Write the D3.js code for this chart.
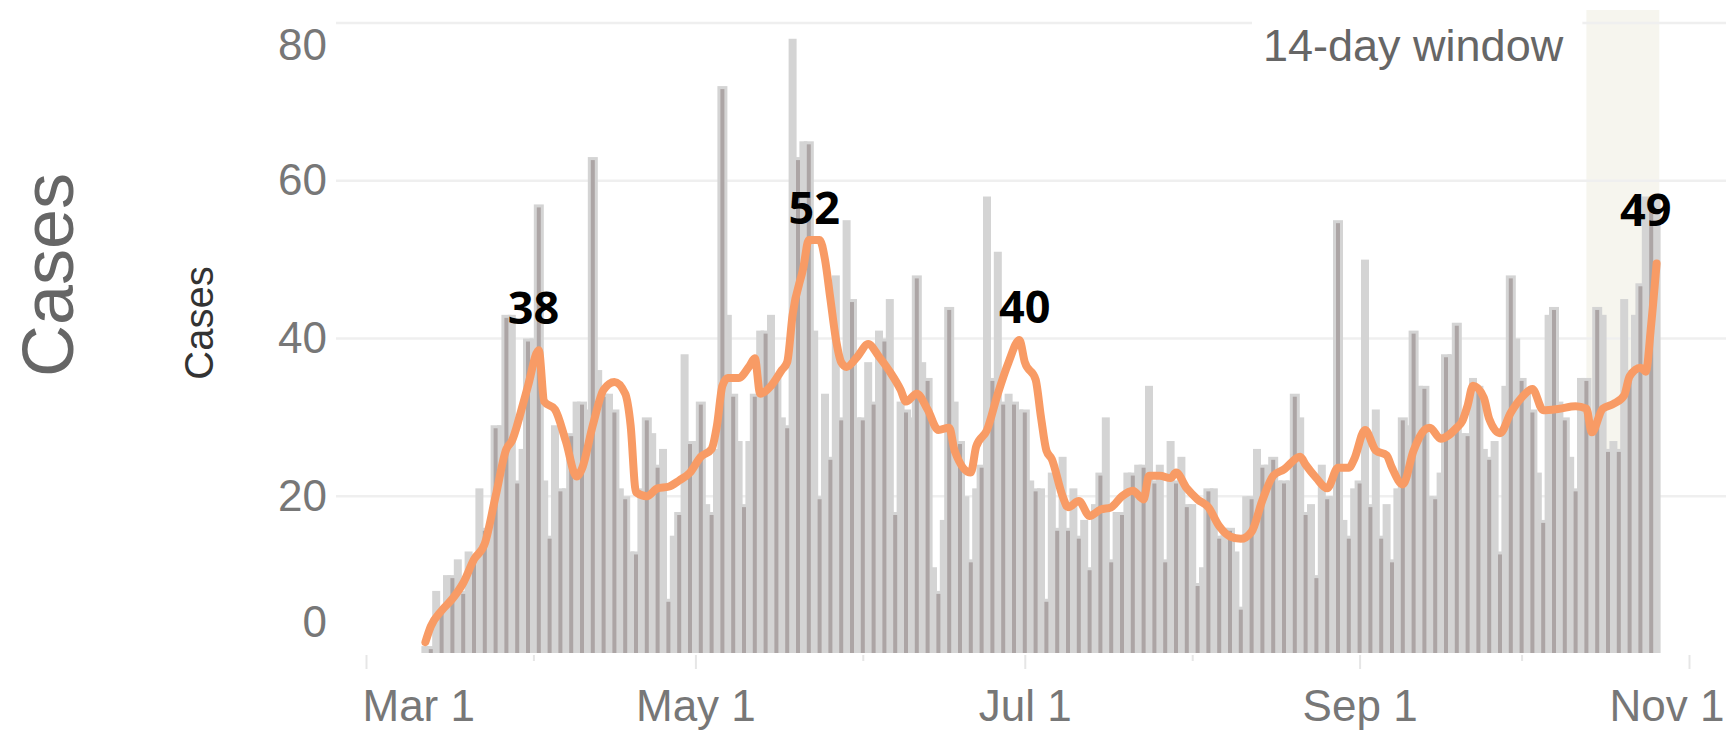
<!DOCTYPE html>
<html>
<head>
<meta charset="utf-8">
<script src="https://cdn.jsdelivr.net/npm/d3@7"></script>
<style>
    body { margin: 0; background: #fff; }
    text { font-family: "Liberation Sans", Arial, sans-serif; }
</style>
</head>
<body>
<div id="chart"></div>
<script>
// daily new cases, one bar per day from Mar 12
const firstDay = "2020-03-12";
const dailyCases = [
    1, 1, 8, 6, 10, 10, 12, 8, 13, 12,
    21, 16, 16, 29, 29, 43, 43, 22, 26, 40,
    40, 57, 22, 15, 29, 21, 21, 28, 32, 32,
    31, 63, 36, 33, 33, 31, 21, 20, 13, 13,
    21, 30, 28, 24, 26, 7, 15, 18, 38, 27,
    27, 32, 19, 18, 26, 72, 43, 33, 27, 19,
    27, 33, 41, 41, 43, 35, 30, 29, 78, 63,
    65, 65, 41, 20, 33, 25, 48, 30, 55, 45,
    30, 30, 37, 32, 41, 40, 45, 18, 32, 31,
    30, 48, 37, 35, 11, 8, 17, 44, 32, 27,
    20, 12, 21, 24, 58, 35, 51, 32, 33, 32,
    31, 31, 22, 21, 21, 7, 23, 16, 25, 16,
    21, 15, 17, 11, 19, 23, 30, 12, 18, 18,
    23, 23, 24, 24, 34, 22, 24, 12, 27, 22,
    25, 19, 19, 9, 11, 21, 21, 15, 16, 16,
    13, 6, 20, 20, 26, 24, 24, 25, 22, 22,
    22, 33, 30, 18, 19, 10, 24, 20, 20, 55,
    17, 15, 21, 22, 50, 19, 31, 15, 19, 12,
    21, 30, 29, 41, 34, 34, 20, 20, 23, 38,
    38, 42, 28, 28, 35, 34, 26, 25, 27, 13,
    34, 48, 40, 35, 33, 31, 23, 17, 43, 44,
    32, 30, 25, 21, 35, 35, 28, 44, 43, 26,
    27, 26, 45, 36, 43, 47, 58, 57, 58
];

// 7-day average (orange line)
const avgDates = [
    "03-12", "03-13", "03-15", "03-17", "03-19", "03-21", "03-23", "03-25", "03-27", "03-28",
    "03-30", "03-31", "04-02", "04-03", "04-05", "04-07", "04-09", "04-10", "04-12", "04-14",
    "04-16", "04-18", "04-19", "04-20", "04-22", "04-24", "04-26", "04-28", "04-30", "05-02",
    "05-04", "05-05", "05-06", "05-07", "05-09", "05-11", "05-12", "05-13", "05-15", "05-17",
    "05-18", "05-19", "05-21", "05-22", "05-24", "05-25", "05-26", "05-27", "05-28", "05-29",
    "05-31", "06-02", "06-04", "06-06", "06-08", "06-09", "06-11", "06-13", "06-15", "06-17",
    "06-18", "06-21", "06-22", "06-24", "06-26", "06-28", "06-30", "07-01", "07-03", "07-04",
    "07-05", "07-06", "07-08", "07-09", "07-11", "07-13", "07-15", "07-17", "07-19", "07-21",
    "07-23", "07-24", "07-26", "07-28", "07-29", "07-31", "08-02", "08-04", "08-06", "08-08",
    "08-10", "08-12", "08-14", "08-16", "08-18", "08-21", "08-22", "08-24", "08-26", "08-28",
    "08-30", "08-31", "09-02", "09-04", "09-06", "09-07", "09-09", "09-11", "09-13", "09-14",
    "09-16", "09-19", "09-20", "09-21", "09-22", "09-24", "09-25", "09-27", "09-29", "10-01",
    "10-03", "10-05", "10-08", "10-11", "10-13", "10-14", "10-16", "10-18", "10-20", "10-21",
    "10-23", "10-24", "10-25", "10-26"
];
const avgValues = [
    1.5, 3.5, 5.5, 7, 9, 12, 14, 20, 26, 27,
    31.5, 34, 38.5, 32, 31, 27, 22.5, 23.5, 29, 33.5,
    34.5, 33, 29, 20.5, 20, 21, 21.2, 22, 23, 25,
    26, 29, 34, 35, 35, 36.5, 37.5, 33, 34, 36,
    37, 43, 49, 52.5, 52.5, 50, 45, 40, 37, 36.4,
    37.7, 39.3, 37.7, 35.8, 33.5, 32, 33, 31, 28.4, 28.7,
    25.8, 23, 26.3, 28.4, 33, 37, 39.8, 37, 34.8, 30,
    25.8, 24.7, 20, 18.6, 19.4, 17.5, 18.3, 18.6, 20, 20.7,
    19.6, 22.6, 22.6, 22.3, 23, 21, 19.6, 18.6, 16.2, 14.9,
    14.6, 15.5, 19.5, 22.6, 23.4, 25, 24, 22.3, 21, 23.6,
    23.6, 24.7, 28.4, 25.8, 25.2, 23.6, 21.5, 25.8, 28.4, 28.7,
    27.3, 28.7, 29.5, 31.5, 34, 32.5, 29.8, 28, 30.6, 32.5,
    33.6, 30.9, 31.1, 31.4, 31.1, 28.1, 31.1, 31.7, 32.8, 35.2,
    36.3, 35.8, 41.8, 49.5
];

// peak labels
const peakDates = ["04-01", "05-23", "07-01", "10-24"];
const peakLabels = [38, 52, 40, 49];

const yTicks = [0, 20, 40, 60, 80];
const majorTicks = ["03-01", "05-01", "07-01", "09-01", "11-01"];
const minorTicks = ["04-01", "06-01", "08-01", "10-01"];
const windowStart = "10-13";
const windowLabel = "14-day window";
const axisTitle = "Cases";

// ---- layout / style ----
var width = 1726, height = 736;
var pane = { left: 336, right: 1726, top: 10, bottom: 653 };
var peakDy = [30, 20, 16, 42];
var lightGray = "#d4d4d4", darkGray = "#aca5a5";

var parse = d3.utcParse("%Y-%m-%d");
var md = s => parse("2020-" + s);

var x = d3.scaleUtc()
    .domain([md("03-01"), md("11-01")])
    .range([366, 1689]);

var y = d3.scaleLinear()
    .domain([0, 80])
    .range([654, 23]);

var start = parse(firstDay);
var bars = dailyCases.map((v, i) => ({ date: d3.utcDay.offset(start, i), value: v, i: i }));
var lastDay = bars[bars.length - 1].date;
var halfDay = (x(d3.utcDay.offset(start, 1)) - x(start)) / 2;

var svg = d3.select("#chart")
    .append("svg")
    .attr("width", width)
    .attr("height", height);

// 14-day window shading
svg.append("rect")
    .attr("x", x(md(windowStart)))
    .attr("y", pane.top)
    .attr("width", x(lastDay) + halfDay - x(md(windowStart)))
    .attr("height", pane.bottom - pane.top)
    .attr("fill", "#f6f5ee");

// gridlines
svg.append("g")
    .selectAll("line")
    .data(yTicks.filter(d => d > 0))
    .enter()
    .append("line")
    .attr("x1", pane.left)
    .attr("x2", pane.right)
    .attr("y1", d => y(d))
    .attr("y2", d => y(d))
    .attr("stroke", "#efefef")
    .attr("stroke-width", 2.5);

// window label sits on a white box over the top gridline
svg.append("rect")
    .attr("x", 1252)
    .attr("y", pane.top)
    .attr("width", x(md(windowStart)) - 1256)
    .attr("height", 62)
    .attr("fill", "#fff");

svg.append("text")
    .attr("x", 1263)
    .attr("y", 61)
    .attr("font-size", 45)
    .attr("fill", "#666")
    .text(windowLabel);

// bars: light body, with the darker core every other day as in the original rendering
svg.append("g")
    .selectAll("rect")
    .data(bars)
    .enter()
    .append("rect")
    .attr("x", d => x(d.date) - (d.i % 2 ? 5 : 4))
    .attr("width", d => d.i % 2 ? 10 : 8)
    .attr("y", d => y(d.value))
    .attr("height", d => pane.bottom - y(d.value))
    .attr("fill", lightGray);

svg.append("g")
    .selectAll("rect")
    .data(bars.filter(d => d.i % 2))
    .enter()
    .append("rect")
    .attr("x", d => x(d.date) - 2)
    .attr("width", 4)
    .attr("y", d => y(d.value) + 3)
    .attr("height", d => Math.max(0, pane.bottom - y(d.value) - 3))
    .attr("fill", darkGray);

// 7-day average line
var avg = avgDates.map((s, i) => ({ date: md(s), value: avgValues[i] }));
svg.append("path")
    .datum(avg)
    .attr("d", d3.line().x(d => x(d.date)).y(d => y(d.value)).curve(d3.curveMonotoneX))
    .attr("fill", "none")
    .attr("stroke", "#f89b65")
    .attr("stroke-width", 8)
    .attr("stroke-linejoin", "round")
    .attr("stroke-linecap", "round");

// peak labels
svg.append("g")
    .selectAll("text")
    .data(peakDates)
    .enter()
    .append("text")
    .attr("x", d => x(md(d)))
    .attr("y", (d, i) => y(peakLabels[i]) - peakDy[i])
    .attr("text-anchor", "middle")
    .style("font-family", "'Open Sans', 'Liberation Sans', sans-serif")
    .attr("font-weight", 700)
    .attr("font-size", 45)
    .attr("fill", "#000")
    .text((d, i) => peakLabels[i]);

// y axis
var yAxis = svg.append("g")
    .attr("transform", "translate(" + pane.left + ",0)")
    .call(d3.axisLeft(y).tickValues(yTicks).tickSize(0).tickPadding(9));
yAxis.select(".domain").remove();
yAxis.selectAll("text")
    .attr("font-size", 44)
    .attr("font-family", null)
    .attr("fill", "#777")
    .attr("y", d => Math.max(45, Math.min(622, y(d))) - y(d));

// x axis, labelled months and minor months
var xMajor = svg.append("g")
    .attr("transform", "translate(0," + (pane.bottom + 2) + ")")
    .call(d3.axisBottom(x).tickValues(majorTicks.map(md)).tickSize(14).tickFormat(d3.utcFormat("%b %-d")));
var xMinor = svg.append("g")
    .attr("transform", "translate(0," + (pane.bottom + 2) + ")")
    .call(d3.axisBottom(x).tickValues(minorTicks.map(md)).tickSize(6).tickFormat(""));
[xMajor, xMinor].forEach(g => {
    g.select(".domain").remove();
    g.selectAll("line").attr("stroke", "#e6e6e6").attr("stroke-width", 2);
});
xMajor.selectAll("text")
    .attr("font-size", 44)
    .attr("font-family", null)
    .attr("fill", "#777")
    .attr("y", 66)
    .attr("dy", 0)
    .each(function (d) {
        var w = this.getComputedTextLength();
        var cx = x(d);
        var left = Math.max(x(md("03-01")) - 4, Math.min(width - 2 - w, cx - w / 2));
        d3.select(this).attr("x", left + w / 2 - cx);
    });

// axis titles
svg.append("text")
    .attr("transform", "translate(73,275) rotate(-90)")
    .attr("text-anchor", "middle")
    .attr("font-size", 72)
    .attr("fill", "#666")
    .text(axisTitle);

svg.append("text")
    .attr("transform", "translate(213,323) rotate(-90)")
    .attr("text-anchor", "middle")
    .attr("font-size", 40)
    .attr("fill", "#333")
    .text(axisTitle);
</script>
</body>
</html>
